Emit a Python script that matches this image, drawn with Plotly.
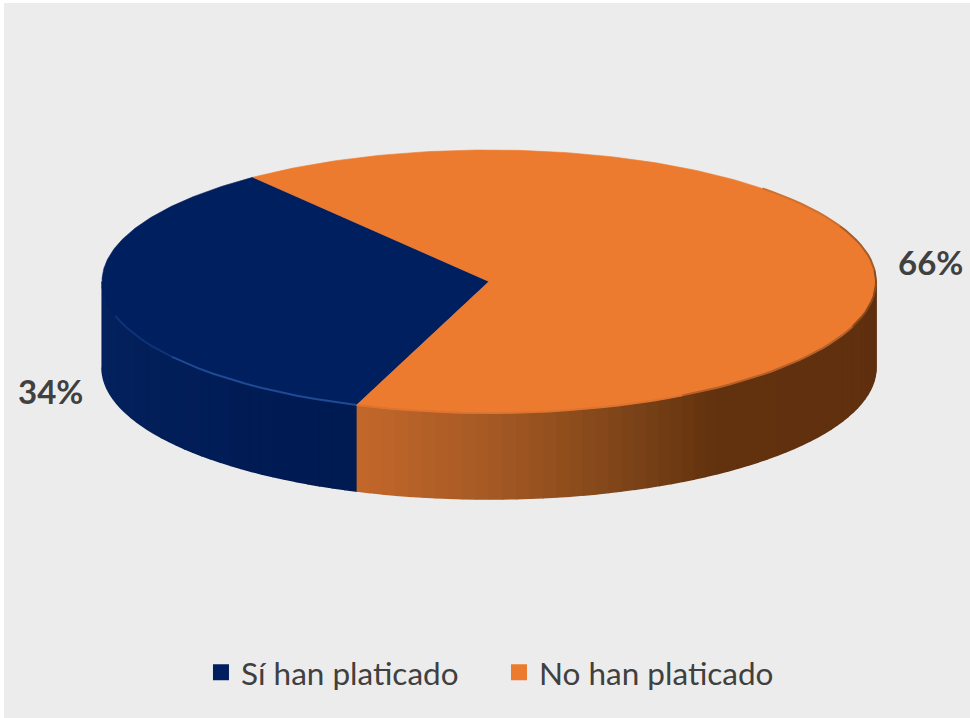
import numpy as np
import plotly.graph_objects as go

# --- data ---
categories = ["Sí han platicado", "No han platicado"]
shares = [34, 66]
top_colors = ["#001F5F", "#ED7B2F"]

# --- drawing geometry (pixels of the 970x718 page) ---
CX, CY, RX, RY, DEPTH = 489, 281.5, 387, 131.5, 86
BOUNDARY_DEG = 250
LABEL_POS = [(50, 391), (930, 262)]
WALL_STOPS = [
    [(180, "#05235F"), (BOUNDARY_DEG, "#001A52")],
    [(BOUNDARY_DEG, "#C4682B"), (270, "#A65A24"), (290, "#7F4519"), (305, "#63330F"), (360, "#5F2F10")],
]


def px(t):
    return CX + RX * np.cos(np.radians(t)), CY - RY * np.sin(np.radians(t))


def hex2rgb(h):
    return np.array([int(h[i:i + 2], 16) for i in (1, 3, 5)], float)


def lerp_color(stops, t):
    angles = [s[0] for s in stops]
    rgb = np.array([hex2rgb(s[1]) for s in stops])
    c = [np.interp(t, angles, rgb[:, k]) for k in range(3)]
    return "rgb(%d,%d,%d)" % tuple(c)


def poly(x, y, color, lw=0.6):
    return go.Scatter(x=x, y=y, mode="lines", fill="toself", fillcolor=color,
                      line=dict(color=color, width=lw), hoverinfo="skip", showlegend=False)


fig = go.Figure()

span0 = 360 * shares[0] / sum(shares)
ranges = [(BOUNDARY_DEG - span0, BOUNDARY_DEG), (BOUNDARY_DEG, BOUNDARY_DEG + 360 - span0)]

# side wall, drawn in thin overlapping strips for the shading
for (a0, a1), stops in zip(ranges, WALL_STOPS):
    lo, hi = max(a0, 180), min(a1, 360)
    edges = np.linspace(lo, hi, max(int((hi - lo) / 2), 1) + 1)
    for e0, e1 in zip(edges[:-1], edges[1:]):
        ts = np.linspace(e0, e1, 4)
        x, y = px(ts)
        fig.add_trace(poly(np.r_[x, x[::-1]], np.r_[y, y[::-1] + DEPTH],
                           lerp_color(stops, (e0 + e1) / 2), lw=1.6))

# top faces
for (a0, a1), color in zip(ranges, top_colors):
    ts = np.linspace(a0, a1, 240)
    x, y = px(ts)
    fig.add_trace(poly(np.r_[CX, x, CX], np.r_[CY, y, CY], color))

# bevel along the front rim
rim = [(np.linspace(195, 215, 8), "#0E3379"), (np.linspace(215, BOUNDARY_DEG, 12), "#1F4A94"),
       (np.linspace(BOUNDARY_DEG, 300, 20), "#DD7430"),
       (np.linspace(300, 340, 20), "#B5602A"), (np.linspace(340, 365, 12), "#8A4A1E"),
       (np.linspace(365, 385, 10), "#A85B26"), (np.linspace(385, 405, 10), "#D0702D")]
for ts, c in rim:
    x, y = px(ts)
    fig.add_trace(go.Scatter(x=x, y=y, mode="lines", line=dict(color=c, width=2),
                             hoverinfo="skip", showlegend=False))

# legend entries
for name, color in zip(categories, top_colors):
    fig.add_trace(go.Scatter(x=[None], y=[None], mode="markers", name=name,
                             marker=dict(symbol="square", size=21, color=color)))

# data labels
for share, (lx, ly) in zip(shares, LABEL_POS):
    fig.add_annotation(x=lx, y=ly, text=f"<b>{share}%</b>", showarrow=False,
                       font=dict(family="Lato", size=33, color="#404040"))

fig.update_layout(
    width=970, height=718,
    margin=dict(l=4, r=0, t=3, b=0),
    paper_bgcolor="#FFFFFF", plot_bgcolor="#ECECEC",
    xaxis=dict(range=[4, 970], visible=False, fixedrange=True),
    yaxis=dict(range=[718, 3], visible=False, fixedrange=True),
    showlegend=True,
    legend=dict(orientation="h", x=0.5124, xanchor="center", y=0.064, yanchor="middle",
                font=dict(family="Lato", size=31.5, color="#404040"),
                bgcolor="rgba(0,0,0,0)", itemwidth=30,
                entrywidth=253, entrywidthmode="pixels"),
)
fig.write_html("out.html", config={"displayModeBar": False},
               post_script="document.body.style.margin='0';")
